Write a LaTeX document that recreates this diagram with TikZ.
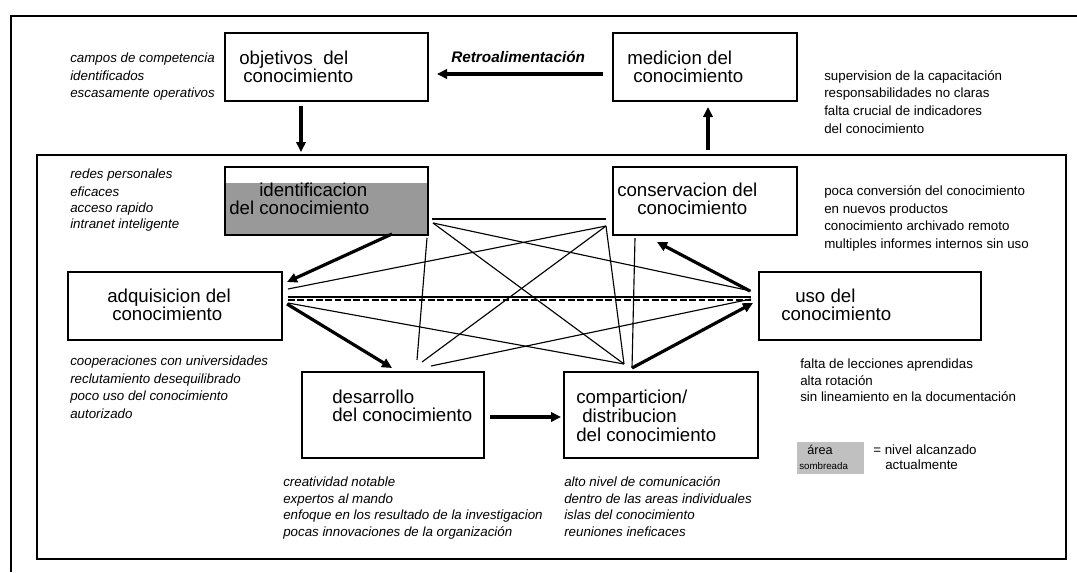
\documentclass[tikz,border=0pt]{standalone}
\usepackage{fontspec}
\setmainfont{Liberation Sans}
\usetikzlibrary{arrows.meta,calc}
\definecolor{idgray}{HTML}{999999}
\definecolor{leggray}{HTML}{C0C0C0}
\begin{document}
\begin{tikzpicture}[x=0.75pt,y=-0.75pt,
  box/.style={draw, line width=1.5pt, fill=white, inner sep=0pt, minimum height=51pt},
  frameline/.style={line width=1.3pt},
  flow/.style={line width=2.4pt, -{Triangle[length=7.5pt,width=7pt]}},
  net/.style={line width=0.85pt},
  lbl/.style={anchor=base west, inner sep=0pt, font=\fontsize{14}{16}\selectfont},
  noteit/.style={anchor=base west, inner sep=0pt, font=\fontsize{10}{12}\selectfont\itshape},
  noterm/.style={anchor=base west, inner sep=0pt, font=\fontsize{10}{12}\selectfont},
]
\useasboundingbox (0,0) rectangle (1077,572);

% frames
\draw[frameline] (1077,16) -- (11,16) -- (11,572);
\draw[frameline] (37,155) rectangle (1066,559);

% process boxes
\node[box, minimum width=152.25pt] (objetivos) at (326.5,67) {};
\node[box, minimum width=138pt] (medicion) at (705,67) {};
\node[box, minimum width=152.25pt,
  path picture={\fill[idgray] ($(path picture bounding box.north west)+(0,16)$) rectangle (path picture bounding box.south east);}]
  (identificacion) at (326.5,201) {};
\node[box, minimum width=138pt] (conservacion) at (705,201) {};
\node[box, minimum width=160.5pt] (adquisicion) at (175,306) {};
\node[box, minimum width=166.5pt] (uso) at (870,306) {};
\node[box, minimum width=136.5pt, minimum height=64.5pt] (desarrollo) at (393,415) {};
\node[box, minimum width=145.5pt, minimum height=64.5pt] (comparticion) at (661,415) {};

% box labels
\node[lbl] (objetivosA) at (239,64.5) {objetivos\ \ del};
\node[lbl] (objetivosB) at (243,82) {conocimiento};
\node[lbl] (medicionA) at (627,64.5) {medicion del};
\node[lbl] (medicionB) at (633,82) {conocimiento};
\node[lbl] (identificacionA) at (259,196.5) {identificacion};
\node[lbl] (identificacionB) at (229,214) {del conocimiento};
\node[lbl] (conservacionA) at (617,196.5) {conservacion del};
\node[lbl] (conservacionB) at (637,214) {conocimiento};
\node[lbl] (adquisicionA) at (107,302.5) {adquisicion del};
\node[lbl] (adquisicionB) at (112,320.5) {conocimiento};
\node[lbl] (usoA) at (795,302.5) {uso del};
\node[lbl] (usoB) at (781,320.5) {conocimiento};
\node[lbl] (desarrolloA) at (332,403) {desarrollo};
\node[lbl] (desarrolloB) at (332,421) {del conocimiento};
\node[lbl] (comparticionA) at (576,403) {comparticion/};
\node[lbl] (comparticionB) at (582,422) {distribucion};
\node[lbl] (comparticionC) at (576,441) {del conocimiento};

\node[anchor=base west, inner sep=0pt, font=\fontsize{11.5}{13}\selectfont\bfseries\itshape]
  (retro) at (451,62) {Retroalimentación};

% notes
\foreach \t/\yy [count=\i] in {campos de competencia/62, identificados/80, escasamente operativos/97}
  \node[noteit] (campos\i) at (70,\yy) {\t};
\foreach \t/\yy [count=\i] in {redes personales/178, eficaces/196, acceso rapido/212, intranet inteligente/228}
  \node[noteit] (redes\i) at (70,\yy) {\t};
\foreach \t/\yy [count=\i] in {cooperaciones con universidades/365, reclutamiento desequilibrado/383, poco uso del conocimiento/400, autorizado/418}
  \node[noteit] (coop\i) at (70,\yy) {\t};
\foreach \t/\yy [count=\i] in {creatividad notable/486, expertos al mando/503, enfoque en los resultado de la investigacion/519, pocas innovaciones de la organización/536}
  \node[noteit] (creat\i) at (283,\yy) {\t};
\foreach \t/\yy [count=\i] in {alto nivel de comunicación/486, dentro de las areas individuales/503, islas del conocimiento/519, reuniones ineficaces/536}
  \node[noteit] (alto\i) at (564,\yy) {\t};
\foreach \t/\yy [count=\i] in {supervision de la capacitación/80, responsabilidades no claras/97, falta crucial de indicadores/115, del conocimiento/133}
  \node[noterm] (superv\i) at (824,\yy) {\t};
\foreach \t/\yy [count=\i] in {poca conversión del conocimiento/195, en nuevos productos/213, conocimiento archivado remoto/230, multiples informes internos sin uso/248}
  \node[noterm] (poca\i) at (824,\yy) {\t};
\foreach \t/\yy [count=\i] in {falta de lecciones aprendidas/368, alta rotación/385, sin lineamiento en la documentación/401}
  \node[noterm] (falta\i) at (800,\yy) {\t};

% legend
\node[fill=leggray, inner sep=0pt, minimum width=50.25pt, minimum height=24pt] (legend) at (830.5,458) {};
\node[anchor=base west, inner sep=0pt, font=\fontsize{9.5}{11}\selectfont] (legendA) at (807,454) {área};
\node[anchor=base west, inner sep=0pt, font=\fontsize{7.3}{9}\selectfont] (legendB) at (799,469) {sombreada};
\node[noterm] (legendC) at (873,454) {= nivel alcanzado};
\node[noterm] (legendD) at (885,469) {actualmente};

% main flow
\draw[flow] ($(objetivos.south)+(-25.5,4)$) -- ($(identificacion.north)+(-25.5,-14)$);
\draw[flow] ($(medicion.west)+(-9,7)$) -- ($(objetivos.east)+(8,7)$);
\draw[flow] ($(conservacion.north)+(3,-16)$) -- ($(medicion.south)+(3,5)$);
\draw[flow] ($(identificacion.south east)+(-37,-2)$) -- ($(adquisicion.north east)+(4,11)$);
\draw[flow] ($(adquisicion.east)+(4,-2)$) -- ($(desarrollo.north)+(-1,-3)$);
\draw[flow] ($(desarrollo.east)+(5,2)$) -- ($(comparticion.west)+(-2,2)$);
\draw[flow] ($(comparticion.north)+(-29,-3)$) -- ($(uso.west)+(-5,-3)$);
\draw[flow] ($(uso.west)+(-8,-15)$) -- ($(conservacion.south)+(-48,6)$);

% interconnection web
\coordinate (nA) at (432,219);
\coordinate (nA2) at (433,223);
\coordinate (nB) at (606,219);
\coordinate (nB2) at (606,226);
\coordinate (nI) at (427,238);
\coordinate (nC) at (635,238);
\coordinate (nQ1) at (288,289);
\coordinate (nQs) at (288,297);
\coordinate (nQd) at (288,300);
\coordinate (nQ2) at (288,303);
\coordinate (nU1) at (751,291);
\coordinate (nUs) at (751,297);
\coordinate (nUd) at (751,300);
\coordinate (nU2) at (751,299);
\coordinate (nD1) at (417,360);
\coordinate (nD2) at (422,362);
\coordinate (nD3) at (431,366);
\coordinate (nP1) at (624,364);
\coordinate (nP2) at (632,368);

\draw[net] (nA) -- (nB);
\draw[net] (nA2) -- (nP1);
\draw[net] (nA2) -- (nU1);
\draw[net] (nB2) -- (nQ1);
\draw[net] (nB2) -- (nD2);
\draw[net] (nB2) -- (nP1);
\draw[net] (nI) -- (nD1);
\draw[net] (nC) -- (nP2);
\draw[net] (nQs) -- (nUs);
\draw[net, dash pattern=on 5pt off 2pt] (nQd) -- (nUd);
\draw[net] (nQ2) -- (nP1);
\draw[net] (nU2) -- (nD3);
\end{tikzpicture}
\end{document}
